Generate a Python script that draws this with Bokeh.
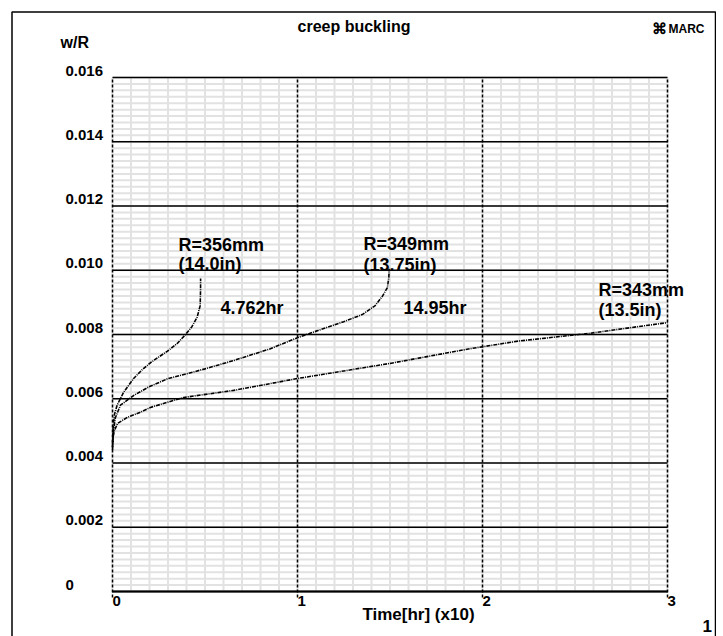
from bokeh.plotting import figure
from bokeh.models import Range1d, Label
from bokeh.embed import file_html
from bokeh.resources import INLINE
import numpy as np

# ---- data (time in units of 10 hr, w/R) ----
t_356 = [0, 0.003, 0.01, 0.025, 0.06, 0.114, 0.16, 0.205, 0.25, 0.297, 0.35, 0.395, 0.43, 0.457, 0.474, 0.476, 0.4762]
w_356 = [0.0046, 0.0051, 0.0055, 0.0058, 0.0062, 0.00663, 0.0069, 0.00712, 0.0073, 0.00748, 0.00772, 0.008, 0.00825, 0.00853, 0.0089, 0.0094, 0.00974]

t_349 = [0, 0.005, 0.015, 0.043, 0.114, 0.2, 0.297, 0.5, 0.655, 0.85, 1.0, 1.124, 1.25, 1.35, 1.42, 1.46, 1.486, 1.494, 1.495]
w_349 = [0.0045, 0.0050, 0.0054, 0.0058, 0.0061, 0.00638, 0.00662, 0.00693, 0.00719, 0.00755, 0.0079, 0.00815, 0.0084, 0.00862, 0.0089, 0.0092, 0.00946, 0.0098, 0.01005]

t_343 = [0, 0.003, 0.01, 0.027, 0.08, 0.151, 0.205, 0.385, 0.655, 1.0, 1.5, 1.935, 2.2, 2.57, 3.0]
w_343 = [0.0044, 0.0048, 0.0050, 0.00523, 0.00542, 0.00558, 0.00573, 0.00604, 0.00626, 0.00663, 0.0071, 0.00756, 0.0078, 0.00803, 0.00837]

x_ticks = [0, 1, 2, 3]
x_tick_labels = ["0", "1", "2", "3"]
y_ticks = [0, 0.002, 0.004, 0.006, 0.008, 0.010, 0.012, 0.014, 0.016]
y_tick_labels = ["0", "0.002", "0.004", "0.006", "0.008", "0.010", "0.012", "0.014", "0.016"]

# annotations: (text, x, y) in data units
notes = [
    ("R=356mm", 0.357, 0.01080),
    ("(14.0in)", 0.357, 0.01018),
    ("4.762hr", 0.584, 0.00881),
    ("R=349mm", 1.357, 0.01083),
    ("(13.75in)", 1.357, 0.01015),
    ("14.95hr", 1.573, 0.00881),
    ("R=343mm", 2.627, 0.00937),
    ("(13.5in)", 2.627, 0.00875),
]

FONT = "Liberation Sans"
X0, X1 = x_ticks[0], x_ticks[-1]
Y0, Y1 = y_ticks[0], y_ticks[-1]

# frame = whole drawing; plot area 0..3 spans 555 px, 0..0.016 spans 514 px
XS = (X1 - X0) / 555.0
YS = (Y1 - Y0) / 514.0
p = figure(width=716, height=636, output_backend="svg", toolbar_location=None,
           x_range=Range1d(X0 - 102 * XS, X1 + 49 * XS),
           y_range=Range1d(Y0 - 45 * YS, Y1 + 67 * YS),
           min_border_left=10, min_border_right=0, min_border_top=10, min_border_bottom=0)
p.axis.visible = False
p.grid.visible = False
p.outline_line_color = None
p.background_fill_color = "white"
p.border_fill_color = "white"

# outer page border (left, top, right; bottom lies below the window)
p.line(x=[X0 - 100.5 * XS, X0 - 100.5 * XS, X1 + 48 * XS, X1 + 48 * XS],
       y=[Y0 - 60 * YS, Y1 + 65.5 * YS, Y1 + 65.5 * YS, Y0 - 60 * YS],
       line_color="black", line_width=1.5)

# minor grid
minor_x = np.round(np.arange(X0, X1 + 1e-9, 0.1), 3)
minor_y = np.round(np.arange(Y0, Y1 + 1e-9, 0.0002), 5)
p.segment(x0=minor_x, y0=Y0, x1=minor_x, y1=Y1, line_color="#e2e2e2", line_width=2)
p.segment(x0=X0, y0=minor_y, x1=X1, y1=minor_y, line_color="#e2e2e2", line_width=2)

# major grid
p.segment(x0=X0, y0=y_ticks, x1=X1, y1=y_ticks, line_color="black", line_width=1.5)
p.segment(x0=x_ticks, y0=Y0 - 6 * YS, x1=x_ticks, y1=Y1, line_color="black", line_width=1.5,
          line_dash="3 2")
p.segment(x0=X0, y0=Y0, x1=X1, y1=Y0, line_color="black", line_width=2.2)

# curves
for tx, wy in [(t_356, w_356), (t_349, w_349), (t_343, w_343)]:
    p.line(tx, wy, line_color="black", line_width=1.6, line_dash="4 1 1 1")


def lab(text, x, y, size, align="left", baseline="middle"):
    p.add_layout(Label(x=x, y=y, text=text, text_font=FONT, text_font_style="bold",
                       text_font_size=size, text_align=align, text_baseline=baseline,
                       text_color="black"))


# tick labels
for v, s in zip(y_ticks, y_tick_labels):
    lab(s, X0 - 47 * XS, v + 7 * YS, "15px")
for v, s in zip(x_ticks, x_tick_labels):
    lab(s, v, Y0 - 9 * YS, "15px")

for s, x, y in notes:
    lab(s, x, y, "18px")

lab("creep buckling", X0 + 185 * XS, Y1 + 51 * YS, "16px")
lab("w/R", X0 - 52 * XS, Y1 + 35 * YS, "16px")
lab("Time[hr] (x10)", X0 + 306 * XS, Y0 - 23 * YS, "17px", align="center")
lab("1", X0 + 590 * XS, Y0 - 34 * YS, "17px")
lab("\u2318", X0 + 539 * XS, Y1 + 49 * YS, "15px")
lab("MARC", X0 + 556 * XS, Y1 + 49 * YS, "12px")

open("out.html", "w").write(file_html(p, INLINE))
